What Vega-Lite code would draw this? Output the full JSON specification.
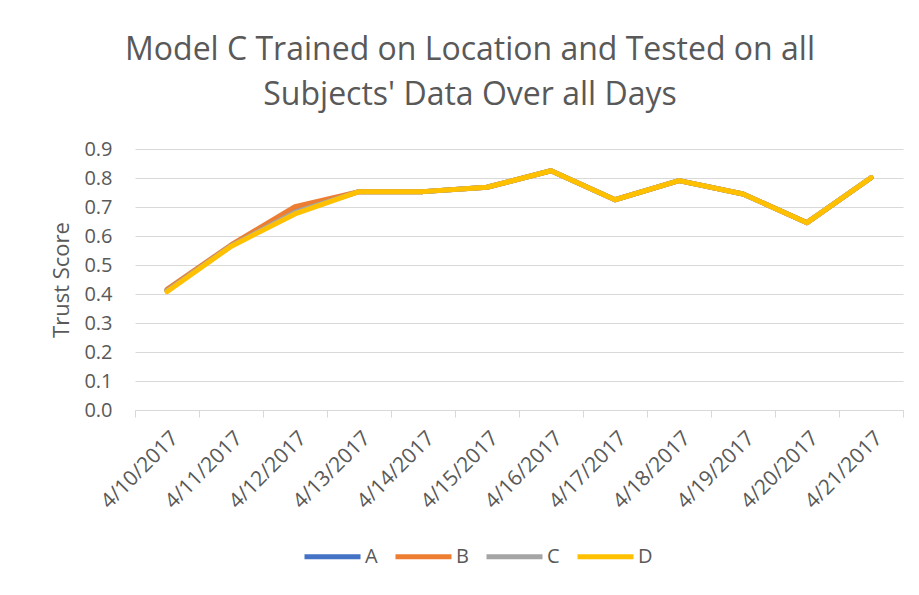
{
  "$schema": "https://vega.github.io/schema/vega-lite/v6.json",
  "width": 768,
  "height": 261,
  "autosize": "none",
  "padding": {"left": 135, "top": 149, "right": 16, "bottom": 185},
  "background": "white",
  "config": {
    "font": "Open Sans",
    "view": {"stroke": null},
    "axis": {"labelColor": "#595959", "titleColor": "#595959", "gridColor": "#D9D9D9", "domainColor": "#D9D9D9", "tickColor": "#D9D9D9"}
  },
  "title": {
    "text": ["Model C Trained on Location and Tested on all", "Subjects' Data Over all Days"],
    "fontSize": 32,
    "fontWeight": "normal",
    "color": "#595959",
    "lineHeight": 45,
    "anchor": "middle",
    "dx": -49,
    "offset": 27
  },
  "data": {
    "values": [
      {"date": "4/10/2017", "series": "A", "score": 0.413},
      {"date": "4/11/2017", "series": "A", "score": 0.566},
      {"date": "4/12/2017", "series": "A", "score": 0.685},
      {"date": "4/13/2017", "series": "A", "score": 0.753},
      {"date": "4/14/2017", "series": "A", "score": 0.753},
      {"date": "4/15/2017", "series": "A", "score": 0.768},
      {"date": "4/16/2017", "series": "A", "score": 0.825},
      {"date": "4/17/2017", "series": "A", "score": 0.725},
      {"date": "4/18/2017", "series": "A", "score": 0.791},
      {"date": "4/19/2017", "series": "A", "score": 0.745},
      {"date": "4/20/2017", "series": "A", "score": 0.646},
      {"date": "4/21/2017", "series": "A", "score": 0.801},
      {"date": "4/10/2017", "series": "B", "score": 0.416},
      {"date": "4/11/2017", "series": "B", "score": 0.569},
      {"date": "4/12/2017", "series": "B", "score": 0.701},
      {"date": "4/13/2017", "series": "B", "score": 0.753},
      {"date": "4/14/2017", "series": "B", "score": 0.753},
      {"date": "4/15/2017", "series": "B", "score": 0.768},
      {"date": "4/16/2017", "series": "B", "score": 0.825},
      {"date": "4/17/2017", "series": "B", "score": 0.725},
      {"date": "4/18/2017", "series": "B", "score": 0.791},
      {"date": "4/19/2017", "series": "B", "score": 0.745},
      {"date": "4/20/2017", "series": "B", "score": 0.646},
      {"date": "4/21/2017", "series": "B", "score": 0.801},
      {"date": "4/10/2017", "series": "C", "score": 0.411},
      {"date": "4/11/2017", "series": "C", "score": 0.566},
      {"date": "4/12/2017", "series": "C", "score": 0.682},
      {"date": "4/13/2017", "series": "C", "score": 0.753},
      {"date": "4/14/2017", "series": "C", "score": 0.753},
      {"date": "4/15/2017", "series": "C", "score": 0.768},
      {"date": "4/16/2017", "series": "C", "score": 0.825},
      {"date": "4/17/2017", "series": "C", "score": 0.725},
      {"date": "4/18/2017", "series": "C", "score": 0.791},
      {"date": "4/19/2017", "series": "C", "score": 0.745},
      {"date": "4/20/2017", "series": "C", "score": 0.646},
      {"date": "4/21/2017", "series": "C", "score": 0.801},
      {"date": "4/10/2017", "series": "D", "score": 0.408},
      {"date": "4/11/2017", "series": "D", "score": 0.564},
      {"date": "4/12/2017", "series": "D", "score": 0.676},
      {"date": "4/13/2017", "series": "D", "score": 0.753},
      {"date": "4/14/2017", "series": "D", "score": 0.753},
      {"date": "4/15/2017", "series": "D", "score": 0.768},
      {"date": "4/16/2017", "series": "D", "score": 0.825},
      {"date": "4/17/2017", "series": "D", "score": 0.725},
      {"date": "4/18/2017", "series": "D", "score": 0.791},
      {"date": "4/19/2017", "series": "D", "score": 0.745},
      {"date": "4/20/2017", "series": "D", "score": 0.646},
      {"date": "4/21/2017", "series": "D", "score": 0.801}
    ]
  },
  "mark": {"type": "line", "strokeWidth": 5, "strokeCap": "round", "strokeJoin": "round"},
  "encoding": {
    "x": {
      "field": "date",
      "type": "ordinal",
      "sort": null,
      "scale": {"type": "band", "paddingInner": 0, "paddingOuter": 0},
      "axis": {
        "title": null,
        "labelAngle": -45,
        "labelFontSize": 21,
        "labelPadding": 10,
        "tickBand": "extent",
        "tickSize": 7,
        "grid": false,
        "labelOverlap": false
      }
    },
    "y": {
      "field": "score",
      "type": "quantitative",
      "scale": {"domain": [0, 0.9], "nice": false},
      "axis": {
        "title": "Trust Score",
        "titleFontSize": 22,
        "titleFontWeight": "normal",
        "titlePadding": 10,
        "labelFontSize": 20,
        "labelPadding": 23,
        "format": ".1f",
        "values": [0, 0.1, 0.2, 0.3, 0.4, 0.5, 0.6, 0.7, 0.8, 0.9],
        "domain": false,
        "ticks": false,
        "grid": true
      }
    },
    "color": {
      "field": "series",
      "type": "nominal",
      "scale": {"domain": ["A", "B", "C", "D"], "range": ["#4472C4", "#ED7D31", "#A5A5A5", "#FFC000"]},
      "legend": {
        "title": null,
        "orient": "none",
        "legendX": 167,
        "legendY": 377,
        "direction": "horizontal",
        "symbolType": "stroke",
        "symbolSize": 3136,
        "symbolStrokeWidth": 5,
        "labelFontSize": 20,
        "labelColor": "#595959",
        "columnPadding": 7,
        "labelOffset": 2
      }
    }
  }
}
